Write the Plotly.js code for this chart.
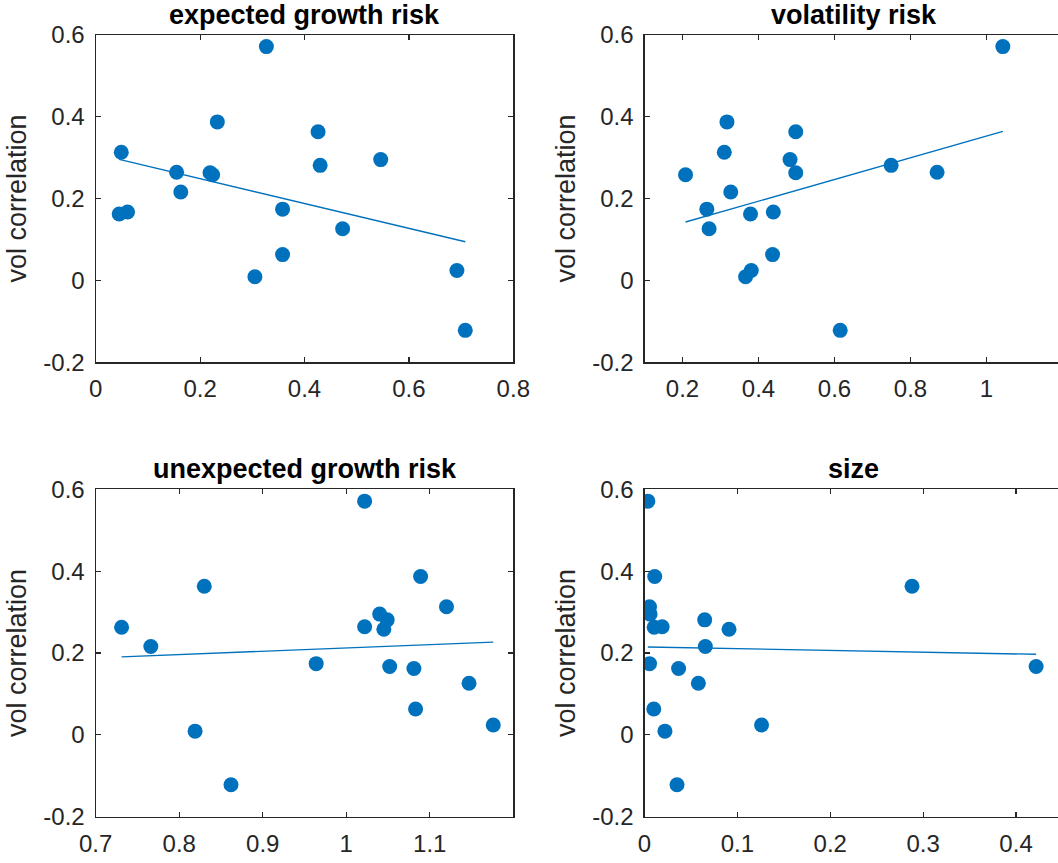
<!DOCTYPE html>
<html>
<head>
<meta charset="utf-8">
<script src="https://cdn.plot.ly/plotly-3.0.1.min.js"></script>
<style>
html, body { margin: 0; padding: 0; overflow: hidden; background: #fff; }
#chart { width: 1070px; height: 863px; }
</style>
</head>
<body>
<div id="chart"></div>
<script>
// vol correlation (same for every panel)
const volCorr = [0.313, 0.162, 0.167, 0.264, 0.216, 0.263, 0.258, 0.387, 0.009, 0.571, 0.174, 0.063, 0.363, 0.281, 0.126, 0.295, 0.024, -0.122];
// risk exposures
const expectedGrowth   = [0.049, 0.045, 0.061, 0.155, 0.163, 0.219, 0.224, 0.233, 0.305, 0.327, 0.358, 0.358, 0.426, 0.430, 0.473, 0.546, 0.692, 0.708];
const volatilityRisk   = [0.310, 0.379, 0.439, 0.870, 0.327, 0.498, 0.208, 0.317, 0.366, 1.043, 0.264, 0.437, 0.498, 0.749, 0.270, 0.483, 0.381, 0.615];
const unexpectedGrowth = [1.120, 1.081, 1.052, 1.022, 0.766, 0.731, 1.045, 1.089, 0.819, 1.022, 0.964, 1.083, 0.830, 1.049, 1.147, 1.040, 1.176, 0.862];
const sizeRisk         = [0.0054, 0.0367, 0.4216, 0.019, 0.0655, 0.0104, 0.091, 0.011, 0.022, 0.0036, 0.0054, 0.010, 0.288, 0.0648, 0.058, 0.006, 0.126, 0.035];

const panelTitles = ['expected growth risk', 'volatility risk', 'unexpected growth risk', 'size'];
const yLabel = 'vol correlation';

const yTickVals = [-0.2, 0, 0.2, 0.4, 0.6];
const yTickText = ['-0.2', '0', '0.2', '0.4', '0.6'];
const xTicks1 = [0, 0.2, 0.4, 0.6, 0.8];     const xText1 = ['0', '0.2', '0.4', '0.6', '0.8'];
const xTicks2 = [0.2, 0.4, 0.6, 0.8, 1.0];   const xText2 = ['0.2', '0.4', '0.6', '0.8', '1'];
const xTicks3 = [0.7, 0.8, 0.9, 1.0, 1.1];   const xText3 = ['0.7', '0.8', '0.9', '1', '1.1'];
const xTicks4 = [0, 0.1, 0.2, 0.3, 0.4];     const xText4 = ['0', '0.1', '0.2', '0.3', '0.4'];

const xRanges = [[0, 0.8], [0.1, 1.2], [0.7, 1.2], [0, 0.45]];

const W = 1070, H = 863;
const colPx = [[95.7, 513.3], [644.5, 1062.5]];
const rowPx = [[34.7, 362.3], [489.3, 816.7]];

const blue = '#0072BD';
const ink = '#262626';
const font = 'Liberation Sans, Arial, Helvetica, sans-serif';

function fit(x, y) {
  const n = x.length;
  let sx = 0, sy = 0, sxx = 0, sxy = 0;
  for (let i = 0; i < n; i++) { sx += x[i]; sy += y[i]; sxx += x[i] * x[i]; sxy += x[i] * y[i]; }
  const b = (n * sxy - sx * sy) / (n * sxx - sx * sx);
  const a = (sy - b * sx) / n;
  const xmin = Math.min(...x), xmax = Math.max(...x);
  return { x: [xmin, xmax], y: [a + b * xmin, a + b * xmax] };
}

const xs = [expectedGrowth, volatilityRisk, unexpectedGrowth, sizeRisk];
const tv = [xTicks1, xTicks2, xTicks3, xTicks4];
const tt = [xText1, xText2, xText3, xText4];

const data = [];
const layout = {
  width: W, height: H,
  margin: { l: 0, r: 0, t: 0, b: 0 },
  paper_bgcolor: '#fff', plot_bgcolor: '#fff',
  showlegend: false,
  font: { family: font, color: ink, size: 24 },
  annotations: []
};

for (let k = 0; k < 4; k++) {
  const r = Math.floor(k / 2), c = k % 2;
  const ax = k === 0 ? '' : String(k + 1);
  const f = fit(xs[k], volCorr);
  data.push({
    x: f.x, y: f.y, type: 'scatter', mode: 'lines',
    line: { color: blue, width: 1.4 },
    xaxis: 'x' + ax, yaxis: 'y' + ax, hoverinfo: 'skip'
  });
  data.push({
    x: xs[k], y: volCorr, type: 'scatter', mode: 'markers',
    marker: { color: blue, size: 15, line: { width: 0 } },
    xaxis: 'x' + ax, yaxis: 'y' + ax
  });
  const common = {
    showline: true, linecolor: ink, linewidth: 1.2, mirror: 'ticks',
    ticks: 'inside', ticklen: 5, tickwidth: 1.2, tickcolor: ink,
    showgrid: false, zeroline: false,
    tickfont: { family: font, size: 24, color: ink }
  };
  layout['xaxis' + ax] = Object.assign({}, common, {
    domain: [colPx[c][0] / W, colPx[c][1] / W],
    range: xRanges[k], anchor: 'y' + ax,
    tickmode: 'array', tickvals: tv[k], ticktext: tt[k],
    ticklabelstandoff: 5
  });
  layout['yaxis' + ax] = Object.assign({}, common, {
    domain: [1 - rowPx[r][1] / H, 1 - rowPx[r][0] / H],
    range: [-0.2, 0.6], anchor: 'x' + ax,
    tickmode: 'array', tickvals: yTickVals, ticktext: yTickText,
    ticklabelstandoff: 5,
    title: { text: yLabel, font: { family: font, size: 27, color: ink }, standoff: 8 }
  });
  layout.annotations.push({
    text: '<b>' + panelTitles[k] + '</b>',
    xref: 'paper', yref: 'paper',
    x: (colPx[c][0] + colPx[c][1]) / 2 / W,
    y: 1 - rowPx[r][0] / H,
    xanchor: 'center', yanchor: 'bottom', yshift: 3,
    showarrow: false,
    font: { family: font, size: 27, color: '#000' }
  });
}

Plotly.newPlot('chart', data, layout, { displayModeBar: false, staticPlot: true });
</script>
</body>
</html>
